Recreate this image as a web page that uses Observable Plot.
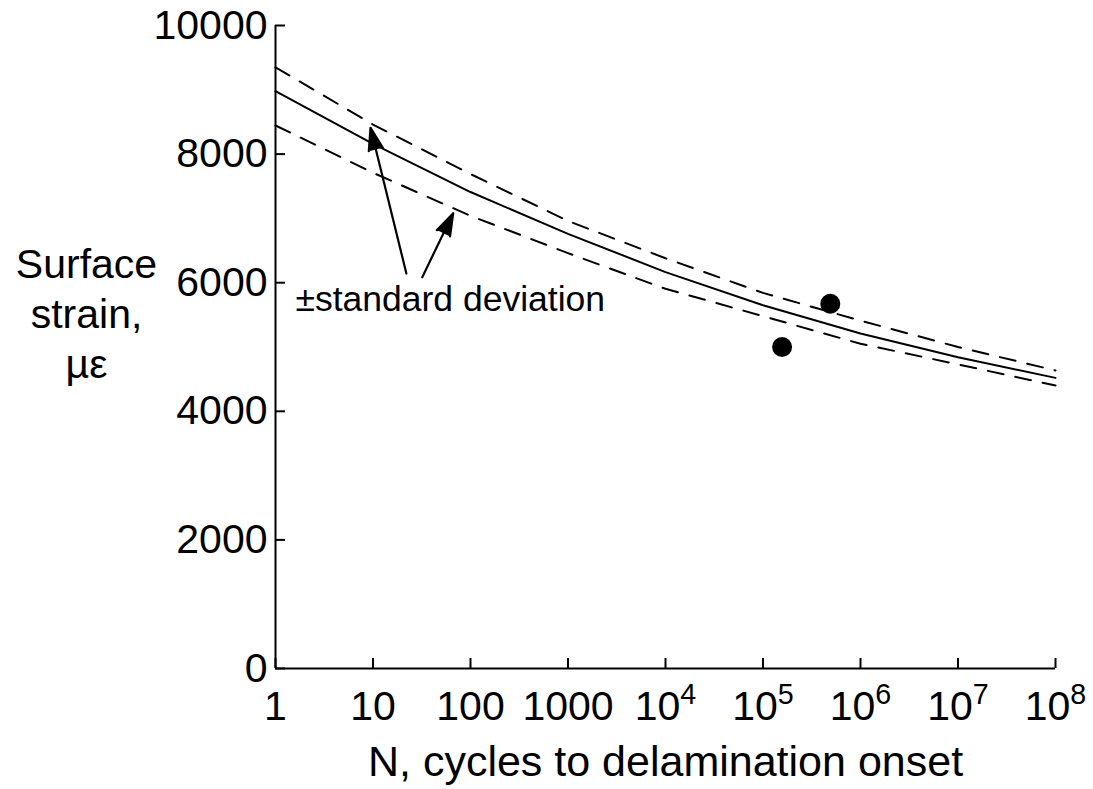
<!DOCTYPE html>
<html><head><meta charset="utf-8">
<script src="https://cdn.jsdelivr.net/npm/d3@7"></script>
<script src="https://cdn.jsdelivr.net/npm/@observablehq/plot@0.6"></script>
<style>body{margin:0;background:#fff}</style>
</head><body><div id="chart"></div>
<script>
// Data
const cycles = [1, 10, 100, 1000, 1e4, 1e5, 1e6, 1e7, 1e8];
const strainMean  = [8980, 8160, 7410, 6760, 6165, 5650, 5210, 4840, 4520];
const strainUpper = [9350, 8460, 7690, 6960, 6380, 5842, 5410, 5000, 4635];
const strainLower = [8445, 7710, 7040, 6460, 5905, 5480, 5050, 4730, 4400];
const pointCycles = [1.57e5, 4.9e5];
const pointStrain = [5000, 5672];
const yTicks = [0, 2000, 4000, 6000, 8000, 10000];
const xTickLabels = ["1", "10", "100", "1000", "10^4", "10^5", "10^6", "10^7", "10^8"];
const xTitle = "N, cycles to delamination onset";
const yTitle = "Surface\nstrain,\nµε";
const annotationText = "±standard deviation";
const annotationAt = [1.6, 5740];
const arrowTailCycles = [22, 32];
const arrowTailStrain = [6143, 6086];
const arrowTipCycles = [9.43, 66.5];
const arrowTipStrain = [8409, 7081];

const mean = cycles.map((n, i) => ({n, s: strainMean[i]}));
const upper = cycles.map((n, i) => ({n, s: strainUpper[i]}));
const lower = cycles.map((n, i) => ({n, s: strainLower[i]}));
const points = pointCycles.map((n, i) => ({n, s: pointStrain[i]}));
const arrows = arrowTailCycles.map((n, i) => ({x1: n, y1: arrowTailStrain[i], x2: arrowTipCycles[i], y2: arrowTipStrain[i]}));
const notes = [{n: annotationAt[0], s: annotationAt[1], t: annotationText}];

const W = 1093, H = 789, ML = 275, MR = 38, MT = 25, MB = 121;
const frameW = W - ML - MR, frameH = H - MT - MB;

const chart = Plot.plot({
  width: W, height: H,
  marginLeft: ML, marginRight: MR, marginTop: MT, marginBottom: MB,
  x: {type: "log", domain: [1, 1e8]},
  y: {domain: [0, 10000]},
  style: {fontFamily: "'Liberation Sans', Arial, sans-serif", fontSize: "40px", color: "#000", background: "#fff"},
  marks: [
    Plot.axisY({ticks: yTicks, tickSize: 0, tickPadding: 8, tickFormat: d => String(d), label: null, fontSize: 41}),
    Plot.axisX({ticks: cycles, tickSize: 0, tickPadding: 22, fontSize: 41,
      tickFormat: d => xTickLabels[cycles.indexOf(d)],
      label: xTitle, labelAnchor: "center", labelArrow: "none", labelOffset: 107}),
    Plot.tickX(cycles, {x: d => d, insetTop: frameH - 10, stroke: "#000", strokeWidth: 2}),
    Plot.tickY(yTicks, {y: d => d, insetRight: frameW - 10, stroke: "#000", strokeWidth: 2}),
    Plot.ruleX([1], {stroke: "#000", strokeWidth: 2}),
    Plot.ruleY([0], {stroke: "#000", strokeWidth: 2}),
    Plot.line(upper, {x: "n", y: "s", stroke: "#000", strokeWidth: 2, strokeDasharray: "16,12"}),
    Plot.line(lower, {x: "n", y: "s", stroke: "#000", strokeWidth: 2, strokeDasharray: "16,12"}),
    Plot.line(mean, {x: "n", y: "s", stroke: "#000", strokeWidth: 2}),
    Plot.dot(points, {x: "n", y: "s", r: 10, fill: "#000"}),
    Plot.arrow(arrows, {x1: "x1", y1: "y1", x2: "x2", y2: "y2", stroke: "#000", fill: "#000", strokeWidth: 2.2, headLength: 16, headAngle: 36}),
    Plot.text(notes, {x: "n", y: "s", text: "t", textAnchor: "start", fontSize: 35.5}),
    Plot.text([yTitle], {frameAnchor: "left", dx: -189, dy: -35, textAnchor: "middle", lineHeight: 1.22, fontSize: 41})
  ]
});

d3.select(chart).selectAll("g[aria-label='x-axis tick label'] text").each(function() {
  const t = this.textContent;
  if (t.includes("^")) {
    const [b, e] = t.split("^");
    const sel = d3.select(this);
    sel.text(null);
    sel.append("tspan").text(b);
    sel.append("tspan").attr("dy", "-0.55em").attr("font-size", "0.7em").text(e);
  }
});
d3.select(chart).selectAll("g[aria-label='x-axis label'] text").attr("font-size", 43);

document.getElementById("chart").appendChild(chart);
</script>
</body></html>
